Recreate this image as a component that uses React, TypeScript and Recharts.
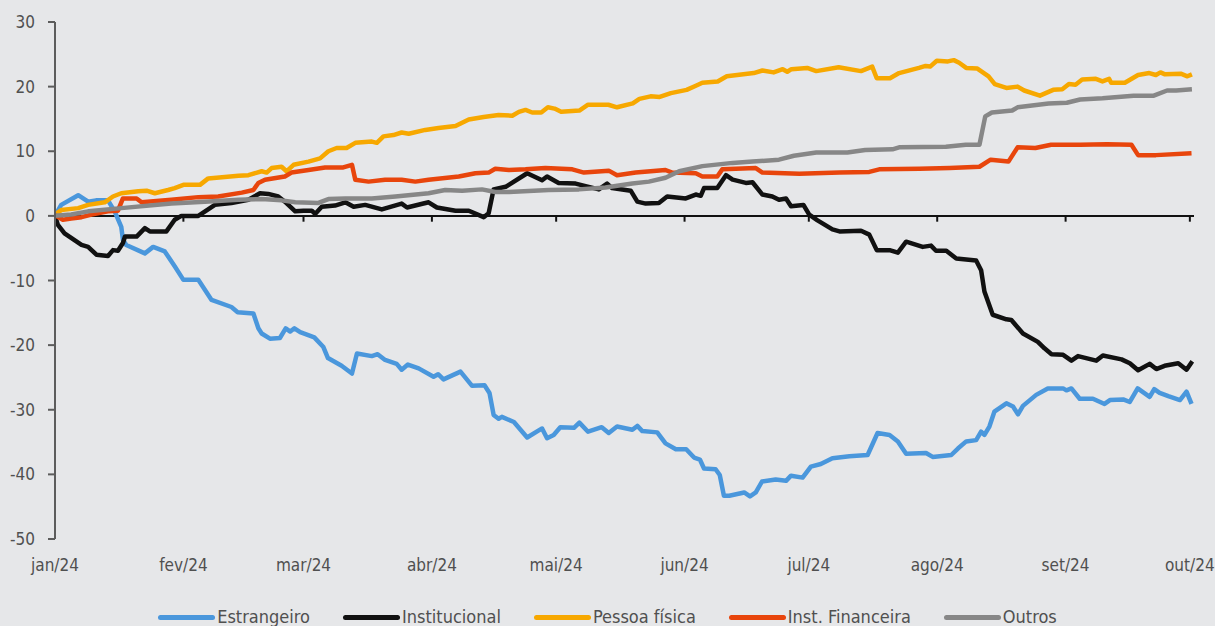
import { LineChart, Line, XAxis, YAxis, ReferenceLine } from "recharts";

const monthTicks = [0, 31, 60, 91, 121, 152, 182, 213, 244, 274];
const monthLabels = ["jan/24", "fev/24", "mar/24", "abr/24", "mai/24", "jun/24", "jul/24", "ago/24", "set/24", "out/24"];
const yTicks = [-50, -40, -30, -20, -10, 0, 10, 20, 30];

// days since 1 Jan 2024 / accumulated flow
const estrangeiroDias = [0, 1.5, 5.6, 8, 9.9, 12.8, 14.4, 16, 16.4, 17.2, 21.7, 23.7, 26.5, 28.9, 31, 34.6, 37.8, 42.6, 44.1, 47.9, 49.1, 49.9, 51.9, 54.3, 55.7, 56.8, 57.8, 59.2, 62.6, 64.8, 65.9, 69.2, 71.7, 72.9, 76.5, 77.9, 79.7, 82.5, 83.7, 85.2, 87.8, 91.4, 92.5, 93.8, 97.9, 100.7, 103.7, 104.9, 105.9, 107.1, 107.9, 110.8, 114, 116.8, 117.6, 118.8, 120.4, 122, 125.3, 126.6, 128.7, 132, 133.7, 135.7, 139.4, 140.6, 141.8, 145.4, 147.4, 149.9, 152.4, 154.3, 155.7, 156.7, 159.5, 160.5, 161.5, 162.8, 166.4, 167.8, 169.2, 170.7, 174, 176.5, 177.7, 180.5, 182.5, 184.9, 187.7, 191.8, 196.2, 198.6, 201.5, 203.5, 205.5, 210.3, 211.9, 216.4, 218, 220, 222.4, 223.6, 224.4, 225.6, 226.8, 229.7, 231.3, 232.5, 233.7, 236.9, 239.7, 243.4, 244.2, 245.4, 247.4, 250.6, 253.4, 254.7, 257.9, 259.5, 261.4, 264.3, 265.4, 266.7, 268.8, 271.6, 273.2, 274.4];
const estrangeiroValores = [0, 1.7, 3.2, 2.2, 2.4, 2.4, 0.7, -1.7, -3.7, -4.5, -5.8, -4.8, -5.5, -7.8, -9.9, -9.9, -13, -14.1, -14.9, -15.1, -17.4, -18.2, -19.0, -18.9, -17.4, -17.9, -17.4, -18.0, -18.8, -20.3, -22.0, -23.2, -24.4, -21.3, -21.7, -21.4, -22.3, -22.9, -23.8, -23.0, -23.6, -24.9, -24.5, -25.3, -24.1, -26.3, -26.2, -27.4, -30.8, -31.4, -31.1, -31.9, -34.3, -33.2, -32.9, -34.4, -33.9, -32.7, -32.8, -32.0, -33.4, -32.7, -33.6, -32.6, -33.1, -32.5, -33.3, -33.5, -35.2, -36.1, -36.1, -37.4, -37.7, -39.1, -39.2, -40.1, -43.3, -43.3, -42.8, -43.4, -42.8, -41.1, -40.8, -41.0, -40.2, -40.5, -38.8, -38.4, -37.5, -37.2, -37.0, -33.6, -33.9, -34.9, -36.8, -36.7, -37.3, -37.0, -36.0, -34.9, -34.7, -33.4, -33.9, -32.6, -30.3, -29.0, -29.5, -30.7, -29.4, -27.7, -26.7, -26.7, -27.0, -26.7, -28.3, -28.3, -29.1, -28.5, -28.4, -28.8, -26.7, -28.0, -26.8, -27.4, -27.9, -28.5, -27.2, -29.1];

const institucionalDias = [0, 0.7, 2.3, 6.4, 8, 10, 12.8, 14, 15.2, 16.4, 16.9, 19.7, 21.7, 22.9, 26.9, 28.9, 30.5, 34.6, 38.6, 42.6, 46.7, 49.5, 51.5, 53.9, 55.5, 58, 60, 62, 62.8, 64.4, 67.6, 70.1, 72.1, 74.9, 78.9, 83.7, 85, 90.2, 92.2, 96.7, 99.9, 103.5, 104.7, 105.9, 108.8, 114, 117.6, 118.8, 121.6, 125.7, 128.1, 131.3, 133.3, 134.5, 139, 140.6, 142.6, 145.8, 147.8, 152.3, 154.7, 155.9, 156.7, 159.9, 162, 163.6, 166.8, 168.4, 170.8, 173.2, 174.8, 176.5, 177.7, 180.7, 182.1, 184.1, 187.7, 189.4, 194.6, 196.6, 198.4, 201.5, 203.5, 205.5, 209.5, 211.5, 212.7, 215.2, 217.6, 222.4, 223.6, 224.4, 226.4, 229.7, 230.9, 233.7, 237.3, 238.9, 240.6, 243.4, 245.4, 247, 251.4, 253, 257.5, 259.5, 261.5, 264.3, 265.9, 267.9, 271.2, 273.2, 274.6];
const institucionalValores = [0, -1.4, -2.7, -4.5, -4.8, -6.0, -6.2, -5.3, -5.4, -4.2, -3.2, -3.2, -1.9, -2.4, -2.4, -0.6, 0, 0, 1.7, 2.0, 2.5, 3.5, 3.4, 3.0, 2.2, 0.7, 0.8, 0.8, 0.3, 1.4, 1.6, 2.1, 1.4, 1.7, 1.0, 1.9, 1.3, 2.1, 1.3, 0.8, 0.8, -0.2, 0.4, 4.1, 4.5, 6.6, 5.5, 6.1, 5.1, 5.0, 4.6, 4.1, 5.0, 4.3, 3.9, 2.2, 1.9, 2.0, 3.0, 2.7, 3.3, 3.1, 4.3, 4.3, 6.3, 5.6, 5.1, 5.2, 3.3, 3.0, 2.5, 2.7, 1.5, 1.7, 0.2, -0.7, -2.1, -2.4, -2.3, -2.9, -5.3, -5.3, -5.7, -4.0, -4.8, -4.6, -5.4, -5.4, -6.6, -6.9, -8.4, -11.7, -15.3, -16.0, -16.1, -18.2, -19.5, -20.5, -21.4, -21.5, -22.4, -21.7, -22.4, -21.6, -22.2, -22.8, -23.9, -22.9, -23.7, -23.2, -22.8, -23.8, -22.5];

const pessoaFisicaDias = [0, 1.5, 5.6, 8, 12, 14, 16, 20.1, 22.1, 24.1, 27.3, 28.9, 31, 35, 37, 44.3, 46.7, 49.9, 51.1, 52.3, 54.7, 55.9, 57.6, 61.2, 64, 66, 68, 70.4, 72.5, 76.5, 77.7, 79.3, 81.7, 83.7, 85.4, 89.4, 92.6, 96.7, 99.9, 103.5, 107.1, 110.4, 112, 113.6, 115.2, 117.4, 119, 120.6, 122.2, 126.6, 128.7, 133.6, 135.7, 139.5, 141.1, 143.8, 146, 148.7, 152.5, 154.6, 156.3, 160, 162.2, 168.7, 170.8, 173.5, 175.7, 176.8, 177.8, 181.6, 183.8, 189.2, 194.6, 197.3, 198.4, 201.6, 203.8, 208.6, 210.2, 211.3, 212.9, 215.6, 217, 218.3, 220, 222.7, 225.4, 226.9, 229.7, 232.4, 234, 237.8, 241, 243.2, 244.8, 246.4, 248, 251.3, 252.9, 254.5, 255, 258.3, 261.5, 264.2, 265.8, 266.9, 268, 271.8, 273.4, 274.5];
const pessoaFisicaValores = [0.2, 0.9, 1.2, 1.7, 2.1, 3.0, 3.5, 3.8, 3.9, 3.5, 4.0, 4.3, 4.8, 4.8, 5.8, 6.2, 6.3, 6.9, 6.7, 7.4, 7.6, 6.9, 7.9, 8.4, 8.9, 10.0, 10.5, 10.5, 11.3, 11.5, 11.3, 12.3, 12.5, 12.9, 12.7, 13.3, 13.6, 13.9, 14.9, 15.3, 15.6, 15.5, 16.1, 16.4, 16.0, 16.0, 16.8, 16.6, 16.1, 16.3, 17.2, 17.2, 16.8, 17.4, 18.1, 18.5, 18.4, 19.0, 19.5, 20.1, 20.6, 20.8, 21.6, 22.1, 22.5, 22.2, 22.7, 22.3, 22.7, 22.9, 22.4, 23.0, 22.4, 23.1, 21.3, 21.3, 22.1, 22.9, 23.2, 23.1, 24.0, 23.9, 24.1, 23.7, 22.9, 22.8, 21.6, 20.4, 19.8, 20.0, 19.4, 18.6, 19.5, 19.6, 20.4, 20.3, 21.1, 21.2, 20.8, 21.2, 20.6, 20.6, 21.8, 22.1, 21.8, 22.2, 21.9, 22.0, 21.6, 21.9];

const instFinanceiraDias = [0, 1.9, 3.9, 6.4, 8.8, 12.8, 15.2, 16.4, 19.7, 20.9, 28.1, 34.6, 39.4, 45.1, 47.9, 49.1, 50.7, 55.5, 57.1, 61.2, 65.2, 69.6, 71.7, 72.5, 75.7, 79.7, 83.7, 87, 90.2, 97.5, 101.5, 104.7, 106.3, 109.6, 113.6, 118.4, 124.9, 127.7, 133.7, 135.7, 140.2, 147.4, 149, 154.7, 156.3, 159.9, 161.1, 169.2, 170.8, 179.7, 189.4, 196.6, 199, 208.7, 216, 223.2, 225.9, 230.2, 232.4, 236.7, 240.5, 247.5, 254, 259.9, 261.5, 265.8, 274.4];
const instFinanceiraValores = [0.1, -0.6, -0.4, -0.2, 0.2, 0.7, 0.8, 2.7, 2.7, 2.1, 2.5, 2.9, 3.0, 3.6, 4.0, 5.1, 5.6, 6.1, 6.7, 7.1, 7.5, 7.5, 7.9, 5.6, 5.3, 5.6, 5.6, 5.3, 5.6, 6.1, 6.6, 6.7, 7.3, 7.1, 7.2, 7.4, 7.2, 6.7, 7.0, 6.3, 6.7, 7.1, 6.7, 6.6, 6.1, 6.1, 7.2, 7.4, 6.7, 6.5, 6.7, 6.8, 7.2, 7.3, 7.4, 7.6, 8.7, 8.4, 10.6, 10.5, 11.0, 11.0, 11.1, 11.0, 9.4, 9.4, 9.7];

const outrosDias = [0, 3.9, 8, 16, 28.1, 36.2, 44.3, 49.9, 54.7, 58, 63.6, 66, 70.1, 76.5, 82.2, 90.2, 94.2, 98.3, 103.1, 106.3, 109.6, 119.2, 126.5, 132.9, 139.4, 143.4, 147.4, 150.7, 156.3, 163.6, 168.4, 174.8, 178.4, 183.8, 191.3, 195.6, 202.2, 203.8, 215.1, 219.9, 223.2, 224.6, 226.2, 231.1, 232.4, 239.9, 244.3, 247.5, 252.9, 260.4, 265.3, 268.5, 270.7, 274.5];
const outrosValores = [0, 0.2, 0.7, 1.2, 1.9, 2.2, 2.5, 2.6, 2.4, 2.1, 2.0, 2.6, 2.7, 2.7, 3.0, 3.5, 4.0, 3.9, 4.1, 3.7, 3.7, 4.0, 4.1, 4.4, 5.0, 5.3, 5.9, 6.9, 7.7, 8.2, 8.4, 8.7, 9.3, 9.8, 9.8, 10.2, 10.3, 10.6, 10.7, 11.0, 11.0, 15.4, 16.0, 16.3, 16.8, 17.4, 17.5, 18.0, 18.2, 18.6, 18.6, 19.4, 19.4, 19.6];

const series = [
  { name: "Estrangeiro", color: "#4a97dc", dias: estrangeiroDias, valores: estrangeiroValores },
  { name: "Institucional", color: "#111111", dias: institucionalDias, valores: institucionalValores },
  { name: "Pessoa física", color: "#f7a800", dias: pessoaFisicaDias, valores: pessoaFisicaValores },
  { name: "Inst. Financeira", color: "#e8450c", dias: instFinanceiraDias, valores: instFinanceiraValores },
  { name: "Outros", color: "#878787", dias: outrosDias, valores: outrosValores },
];

const FONT = "'DejaVu Sans Condensed', 'DejaVu Sans', sans-serif";
const BG = "#e6e7e9";
const TEXT = "#505050";
const AXIS = "#5c5c5c";
const tick = { fill: TEXT, fontSize: 17, fontFamily: FONT };

const monthLabel = (d: number) => monthLabels[monthTicks.indexOf(d)] ?? "";

export default function App() {
  return (
    <div
      style={{
        position: "absolute",
        left: 0,
        top: 0,
        width: 1215,
        height: 626,
        background: BG,
        overflow: "hidden",
        fontFamily: FONT,
      }}
    >
      <LineChart width={1215} height={626} margin={{ top: 22, right: 21, left: 0, bottom: 57 }}>
        <XAxis
          type="number"
          dataKey="d"
          domain={[0, 275]}
          ticks={monthTicks}
          tickFormatter={monthLabel}
          tick={tick}
          axisLine={false}
          tickLine={false}
          tickMargin={14}
          interval={0}
          allowDataOverflow
        />
        <YAxis
          type="number"
          domain={[-50, 30]}
          ticks={yTicks}
          tick={tick}
          width={55}
          tickSize={7}
          tickMargin={13}
          axisLine={{ stroke: AXIS, strokeWidth: 2 }}
          tickLine={{ stroke: AXIS, strokeWidth: 2 }}
          interval={0}
        />
        <ReferenceLine y={0} stroke="#111111" strokeWidth={2} />
        {monthTicks.map((d) => (
          <ReferenceLine
            key={d}
            segment={[{ x: d, y: 0 }, { x: d, y: -0.9 }]}
            stroke="#111111"
            strokeWidth={2}
          />
        ))}
        {series.map((s) => (
          <Line
            key={s.name}
            data={s.dias.map((d, i) => ({ d, v: s.valores[i] }))}
            dataKey="v"
            name={s.name}
            type="linear"
            stroke={s.color}
            strokeWidth={4.5}
            strokeLinejoin="round"
            dot={false}
            activeDot={false}
            isAnimationActive={false}
          />
        ))}
      </LineChart>
      <div
        style={{
          position: "absolute",
          left: 0,
          top: 607,
          width: 1215,
          display: "flex",
          justifyContent: "center",
          alignItems: "center",
          gap: 33,
          fontSize: 18,
          lineHeight: "20px",
          color: TEXT,
        }}
      >
        {series.map((s) => (
          <div key={s.name} style={{ display: "flex", alignItems: "center" }}>
            <span
              style={{
                display: "inline-block",
                width: 57,
                height: 5,
                borderRadius: 3,
                background: s.color,
                marginRight: 2,
              }}
            />
            <span>{s.name}</span>
          </div>
        ))}
      </div>
    </div>
  );
}
